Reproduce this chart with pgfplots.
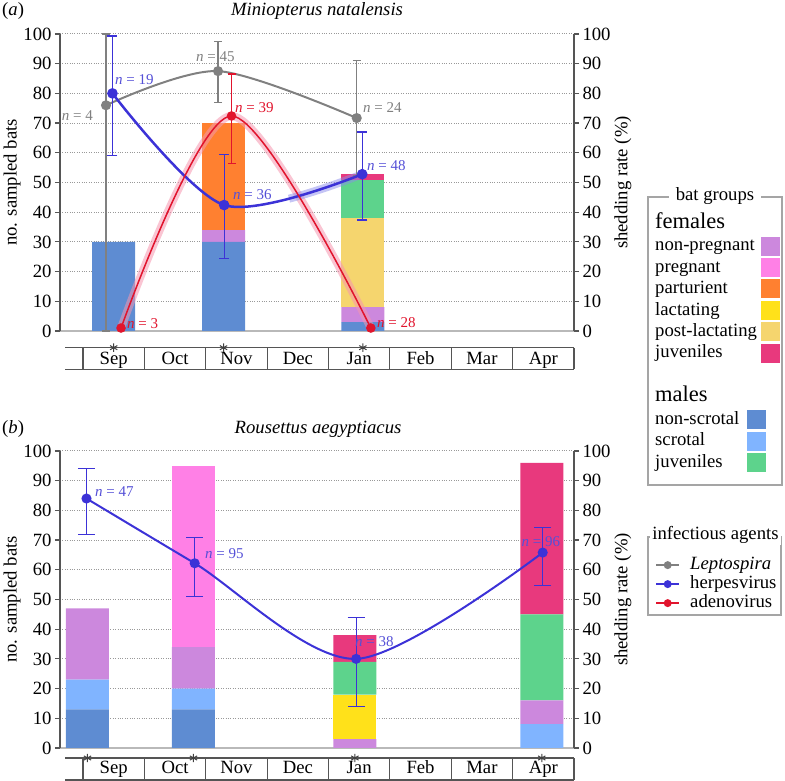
\documentclass[border=0pt]{standalone}
\usepackage{fontspec}
\setmainfont{Liberation Serif}
\usepackage{pgfplots}
\pgfplotsset{compat=1.18}
\usepackage{pgfplotstable}

\definecolor{cNS}{RGB}{94,140,210}
\definecolor{cSC}{RGB}{128,180,255}
\definecolor{cNP}{RGB}{204,136,221}
\definecolor{cPR}{RGB}{255,128,230}
\definecolor{cPA}{RGB}{255,128,48}
\definecolor{cLA}{RGB}{255,225,26}
\definecolor{cPL}{RGB}{245,213,110}
\definecolor{cMJ}{RGB}{93,211,140}
\definecolor{cFJ}{RGB}{232,57,125}
\definecolor{cLep}{RGB}{128,128,128}
\definecolor{cHer}{RGB}{60,50,215}
\definecolor{cAde}{RGB}{225,20,45}
\definecolor{cHerT}{RGB}{85,80,215}
\definecolor{axisgray}{RGB}{85,85,85}
\definecolor{boxgray}{RGB}{165,165,165}
\definecolor{haloPink}{RGB}{245,150,175}
\definecolor{haloBlue}{RGB}{140,140,235}

\newcommand\fs{\fontsize{18.7}{22}\selectfont}
\newcommand\fn{\fontsize{15}{18}\selectfont}
\newcommand\fh{\fontsize{22.5}{26}\selectfont}

\pgfplotstableread{
x    ns sc np pr pa la pl mj fj
0.50 30 0  0  0  0  0  0  0  0
2.29 30 0  4  0  36 0  0  0  0
4.56 3  0  5  0  0  0  30 13 2
}\barsA

\pgfplotstableread{
x     ns sc np pr pa la pl mj fj
0.073 13 10 24 0  0  0  0  0  0
1.80  13 7  14 61 0  0  0  0  0
4.43  0  0  3  0  0  15 0  11 9
7.475 0  8  8  0  0  0  0  29 51
}\barsB

\pgfplotsset{
  panel/.style={scale only axis, width=514pt, height=297pt,
    xmin=-0.3746, xmax=8.0, ymin=0, ymax=100, clip=false, anchor=south west,
    ytick={0,10,...,100}, tick align=outside, major tick length=5pt,
    /pgf/number format/assume math mode=true,
    tick label style={font=\fs, black}, label style={font=\fs},
    major tick style={axisgray, line width=1.2pt}},
  leftax/.style={axis y line*=left, axis x line*=bottom, xtick=\empty, ymajorgrids,
    grid style={dotted, line width=1pt, gray!80},
    y axis line style={axisgray, line width=1.5pt},
    x axis line style={gray!55, line width=1.2pt},
    ylabel={no. sampled bats},
    ylabel style={at={(axis description cs:-0.093,0.5)}, anchor=center},
    ybar stacked, bar width=43pt},
  rightax/.style={axis y line*=right, axis x line=none,
    y axis line style={axisgray, line width=1.5pt},
    ylabel={shedding rate (\%)},
    ylabel style={at={(axis description cs:1.095,0.5)}, anchor=center}},
  swatch/.style={legend image code/.code={\fill[##1, draw=none] (0pt,-9.5pt) rectangle (19pt,9.5pt);}},
  agent/.style={legend image code/.code={\draw[##1, line width=2pt] (0pt,0pt) -- (23pt,0pt); \fill[##1, draw=none] (11.5pt,0pt) circle (4pt);}},
  hidden/.style={hide axis, scale only axis, width=785pt, height=781pt, at={(0pt,0pt)}, anchor=south west,
    xmin=0, xmax=1, ymin=0, ymax=1},
  ebar/.style 2 args={/pgfplots/error bars/y dir=both, /pgfplots/error bars/y explicit,
    /pgfplots/error bars/error bar style={#1, line width=1.2pt},
    /pgfplots/error bars/error mark options={rotate=90, #1, mark size=#2, line width=1.2pt}},
  star/.style={only marks, mark=asterisk, mark size=4.2pt, black!75, line width=1pt},
}

\begin{document}
\begin{tikzpicture}[x=1pt,y=1pt]
\path[use as bounding box] (0pt,0pt) rectangle (785pt,781pt);

% ================= panel (a)
\node[anchor=base west, font=\fs, inner sep=0pt] at (2pt,765pt) {(\textit{a})};
\node[anchor=base, font=\fs, inner sep=0pt] at (317pt,765pt) {\textit{Miniopterus natalensis}};

\begin{axis}[panel, leftax, at={(60pt,450pt)}]
\addplot[fill=cNS, draw=none] table[x=x,y=ns]{\barsA};
\addplot[fill=cSC, draw=none] table[x=x,y=sc]{\barsA};
\addplot[fill=cNP, draw=none] table[x=x,y=np]{\barsA};
\addplot[fill=cPR, draw=none] table[x=x,y=pr]{\barsA};
\addplot[fill=cPA, draw=none] table[x=x,y=pa]{\barsA};
\addplot[fill=cLA, draw=none] table[x=x,y=la]{\barsA};
\addplot[fill=cPL, draw=none] table[x=x,y=pl]{\barsA};
\addplot[fill=cMJ, draw=none] table[x=x,y=mj]{\barsA};
\addplot[fill=cFJ, draw=none] table[x=x,y=fj]{\barsA};
\end{axis}

\begin{axis}[panel, rightax, at={(60pt,450pt)}]
% halos
\addplot[smooth, haloPink, opacity=0.55, line width=8pt] coordinates {(0.62,1) (2.42,72.4) (4.69,1)};
\addplot[smooth, haloBlue, opacity=0.5, line width=8pt, dash pattern=on 0pt off 225pt on 600pt] coordinates {(0.48,80) (2.30,42.4) (4.55,52.8)};
% Leptospira
\addplot[smooth, cLep, line width=2pt, mark=*, mark size=4pt, mark options={solid, fill=cLep}, ebar={cLep}{4pt}]
 coordinates {(0.375,76) += (0,24) -= (0,76) (2.20,87.5) += (0,10.1) -= (0,10.5) (4.46,71.7) += (0,19.3) -= (0,19.3)};
% herpesvirus
\addplot[smooth, cHer, line width=2.5pt, mark=*, mark size=4pt, mark options={solid, fill=cHer}, ebar={cHer}{5pt}]
 coordinates {(0.48,80) += (0,19.3) -= (0,21) (2.30,42.4) += (0,16.9) -= (0,18.1) (4.55,52.8) += (0,14.2) -= (0,15.4)};
% adenovirus
\addplot[smooth, cAde, line width=1.5pt, mark=*, mark size=4pt, mark options={solid, fill=cAde}, ebar={cAde}{4pt}]
 coordinates {(0.62,1) += (0,0) -= (0,0) (2.42,72.4) += (0,14.1) -= (0,15.9) (4.69,1) += (0,0) -= (0,0)};
% sampling dates
\addplot[star] coordinates {(0.50,-5.62) (2.29,-5.62) (4.56,-5.62)};
% n labels
\node[anchor=east, inner sep=0pt, font=\fn, text=cLep] at (axis cs:0.163,72.4) {\textit{n} = 4};
\node[anchor=west, inner sep=0pt, font=\fn, text=cLep] at (axis cs:1.84,92.3) {\textit{n} = 45};
\node[anchor=west, inner sep=0pt, font=\fn, text=cLep] at (axis cs:4.56,75.1) {\textit{n} = 24};
\node[anchor=west, inner sep=0pt, font=\fn, text=cHerT] at (axis cs:0.521,84.5) {\textit{n} = 19};
\node[anchor=west, inner sep=0pt, font=\fn, text=cHerT] at (axis cs:2.443,45.8) {\textit{n} = 36};
\node[anchor=west, inner sep=0pt, font=\fn, text=cHerT] at (axis cs:4.625,55.6) {\textit{n} = 48};
\node[anchor=west, inner sep=0pt, font=\fn, text=cAde] at (axis cs:2.476,75.1) {\textit{n} = 39};
\node[anchor=west, inner sep=0pt, font=\fn, text=cAde] at (axis cs:0.717,2.4) {\textit{n} = 3};
\node[anchor=west, inner sep=0pt, font=\fn, text=cAde] at (axis cs:4.788,2.7) {\textit{n} = 28};
% month table
\draw[axisgray, line width=1.2pt] (axis cs:-0.293,-5.62) -- (axis cs:8,-5.62);
\draw[axisgray, line width=1.2pt] (axis cs:-0.293,-12.9) -- (axis cs:8,-12.9);
\pgfplotsinvokeforeach{0,...,8}{\draw[axisgray, line width=1.2pt] (axis cs:#1,-5.62) -- (axis cs:#1,-12.9);}
\node[anchor=base, font=\fs] at (axis cs:0.5,-11.45) {Sep};
\node[anchor=base, font=\fs] at (axis cs:1.5,-11.45) {Oct};
\node[anchor=base, font=\fs] at (axis cs:2.5,-11.45) {Nov};
\node[anchor=base, font=\fs] at (axis cs:3.5,-11.45) {Dec};
\node[anchor=base, font=\fs] at (axis cs:4.5,-11.45) {Jan};
\node[anchor=base, font=\fs] at (axis cs:5.5,-11.45) {Feb};
\node[anchor=base, font=\fs] at (axis cs:6.5,-11.45) {Mar};
\node[anchor=base, font=\fs] at (axis cs:7.5,-11.45) {Apr};
\end{axis}

% ================= panel (b)
\node[anchor=base west, font=\fs, inner sep=0pt] at (2pt,347pt) {(\textit{b})};
\node[anchor=base, font=\fs, inner sep=0pt] at (318pt,347pt) {\textit{Rousettus aegyptiacus}};

\begin{axis}[panel, leftax, at={(60pt,33pt)}]
\addplot[fill=cNS, draw=none] table[x=x,y=ns]{\barsB};
\addplot[fill=cSC, draw=none] table[x=x,y=sc]{\barsB};
\addplot[fill=cNP, draw=none] table[x=x,y=np]{\barsB};
\addplot[fill=cPR, draw=none] table[x=x,y=pr]{\barsB};
\addplot[fill=cPA, draw=none] table[x=x,y=pa]{\barsB};
\addplot[fill=cLA, draw=none] table[x=x,y=la]{\barsB};
\addplot[fill=cPL, draw=none] table[x=x,y=pl]{\barsB};
\addplot[fill=cMJ, draw=none] table[x=x,y=mj]{\barsB};
\addplot[fill=cFJ, draw=none] table[x=x,y=fj]{\barsB};
\end{axis}

\begin{axis}[panel, rightax, at={(60pt,33pt)}]
\addplot[smooth, cHer, line width=2pt, mark=*, mark size=4pt, mark options={solid, fill=cHer}, ebar={cHer}{8.5pt}]
 coordinates {(0.057,84) += (0,10) -= (0,12) (1.82,62.2) += (0,8.7) -= (0,11.3) (4.45,30) += (0,13.9) -= (0,16.1) (7.49,65.8) += (0,8.5) -= (0,11)};
\addplot[star] coordinates {(0.073,-3.37) (1.80,-3.37) (4.43,-3.37) (7.475,-3.37)};
\node[anchor=west, inner sep=0pt, font=\fn, text=cHerT] at (axis cs:0.195,86.3) {\textit{n} = 47};
\node[anchor=west, inner sep=0pt, font=\fn, text=cHerT] at (axis cs:1.987,65.3) {\textit{n} = 95};
\node[anchor=west, inner sep=0pt, font=\fn, text=cHerT] at (axis cs:4.43,35.8) {\textit{n} = 38};
\node[anchor=west, inner sep=0pt, font=\fn, text=cHerT] at (axis cs:7.145,69.5) {\textit{n} = 96};
\draw[axisgray, line width=1.2pt] (axis cs:-0.293,-3.37) -- (axis cs:8,-3.37);
\draw[axisgray, line width=1.2pt] (axis cs:-0.293,-10.77) -- (axis cs:8,-10.77);
\pgfplotsinvokeforeach{0,...,8}{\draw[axisgray, line width=1.2pt] (axis cs:#1,-3.37) -- (axis cs:#1,-10.77);}
\node[anchor=base, font=\fs] at (axis cs:0.5,-8.75) {Sep};
\node[anchor=base, font=\fs] at (axis cs:1.5,-8.75) {Oct};
\node[anchor=base, font=\fs] at (axis cs:2.5,-8.75) {Nov};
\node[anchor=base, font=\fs] at (axis cs:3.5,-8.75) {Dec};
\node[anchor=base, font=\fs] at (axis cs:4.5,-8.75) {Jan};
\node[anchor=base, font=\fs] at (axis cs:5.5,-8.75) {Feb};
\node[anchor=base, font=\fs] at (axis cs:6.5,-8.75) {Mar};
\node[anchor=base, font=\fs] at (axis cs:7.5,-8.75) {Apr};
\end{axis}

% ================= legends
\draw[boxgray, line width=1.2pt] (648pt,296pt) rectangle (782pt,584pt);
\node[fill=white, font=\fs, inner xsep=7pt, inner ysep=1pt] at (715pt,585pt) {bat groups};
\draw[boxgray, line width=1.2pt] (648pt,166pt) rectangle (781pt,244pt);
\node[fill=white, font=\fs, inner xsep=2pt, inner ysep=1pt] at (715.5pt,246pt) {infectious agents};

\begin{axis}[hidden, legend cell align=left, legend plot pos=right,
  legend style={at={(0.8344,0.726)}, anchor=north west, draw=none, fill=none, inner sep=0pt,
    row sep=2.4pt, column sep=4pt, nodes={inner sep=0pt, text height=14pt, text depth=4.5pt, font=\fs}}]
\addplot[draw=none, forget plot] coordinates {(0,0)};
\addlegendimage{empty legend}\addlegendentry[font=\fh, text depth=6pt]{females}
\addlegendimage{swatch, fill=cNP}\addlegendentry{non-pregnant}
\addlegendimage{swatch, fill=cPR}\addlegendentry{pregnant}
\addlegendimage{swatch, fill=cPA}\addlegendentry{parturient}
\addlegendimage{swatch, fill=cLA}\addlegendentry{lactating}
\addlegendimage{swatch, fill=cPL}\addlegendentry{post-lactating}
\addlegendimage{swatch, fill=cFJ}\addlegendentry{juveniles}
\end{axis}

\begin{axis}[hidden, legend cell align=left, legend plot pos=right,
  legend style={at={(0.8344,0.5036)}, anchor=north west, draw=none, fill=none, inner sep=0pt,
    row sep=2.4pt, column sep=8pt, nodes={inner sep=0pt, text height=14pt, text depth=4.5pt, font=\fs}}]
\addplot[draw=none, forget plot] coordinates {(0,0)};
\addlegendimage{empty legend}\addlegendentry[font=\fh, text depth=6pt]{males}
\addlegendimage{swatch, fill=cNS}\addlegendentry{non-scrotal}
\addlegendimage{swatch, fill=cSC}\addlegendentry{scrotal}
\addlegendimage{swatch, fill=cMJ}\addlegendentry{juveniles}
\end{axis}

\begin{axis}[hidden, legend cell align=left,
  legend style={at={(0.8344,0.2885)}, anchor=north west, draw=none, fill=none, inner sep=0pt,
    row sep=0.5pt, column sep=10pt, nodes={inner sep=0pt, text height=14pt, text depth=4.5pt, font=\fs}}]
\addplot[draw=none, forget plot] coordinates {(0,0)};
\addlegendimage{agent, cLep}\addlegendentry{\textit{Leptospira}}
\addlegendimage{agent, cHer}\addlegendentry{herpesvirus}
\addlegendimage{agent, cAde}\addlegendentry{adenovirus}
\end{axis}

\end{tikzpicture}
\end{document}
